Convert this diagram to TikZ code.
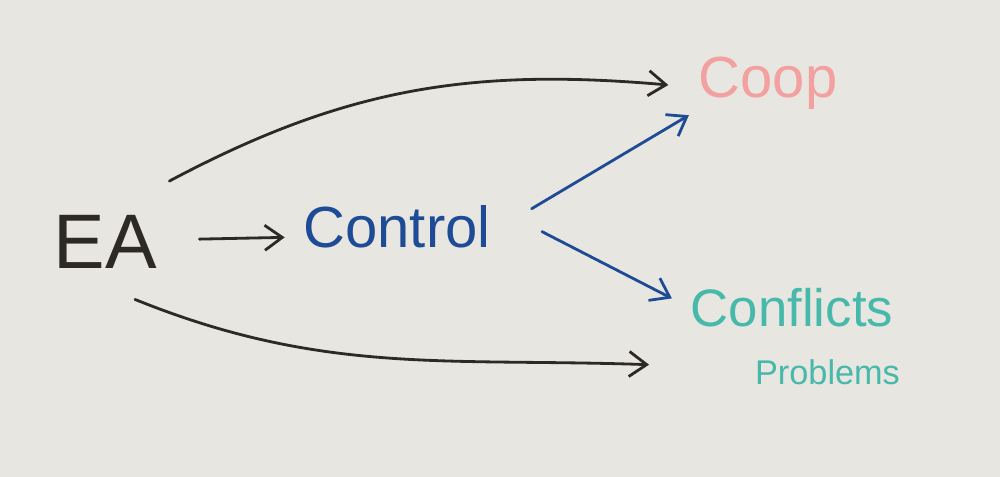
\documentclass[tikz,border=0pt]{standalone}
\usepackage{fontspec}
\setmainfont{Liberation Sans}
\usetikzlibrary{arrows.meta}
\definecolor{board}{RGB}{232,230,225}
\definecolor{marker}{RGB}{45,42,38}
\definecolor{markerblue}{RGB}{30,75,150}
\definecolor{markerpink}{RGB}{243,160,160}
\definecolor{markerteal}{RGB}{70,185,170}
\tikzset{
	word/.style={inner sep=0pt},
	pen/.style={line width=1.6pt, line cap=round, -{Straight Barb[length=3.5mm,width=5mm]}},
}

\begin{document}
\begin{tikzpicture}
			\fill[board] (0,0) rectangle (20,9.54);
			\useasboundingbox (0,0) rectangle (20,9.54);
			\coordinate (ea) at (2.1,4.71);
			\coordinate (control) at (7.94,5.0);
			\coordinate (coop) at (15.36,7.88);
			\coordinate (conflicts) at (15.84,3.38);
			\coordinate (problems) at (16.55,2.1);
			\node[word, font=\fontsize{44}{50}\selectfont, text=marker] (EA) at (ea) {EA};
			\node[word, font=\fontsize{33}{40}\selectfont, text=markerblue] (Control) at (control) {Control};
			\node[word, font=\fontsize{33}{40}\selectfont, text=markerpink] (Coop) at (coop) {Coop};
			\node[word, font=\fontsize{30}{36}\selectfont, text=markerteal] (Conflicts) at (conflicts) {Conflicts};
			\node[word, font=\fontsize{19.5}{24}\selectfont, text=markerteal] (Problems) at (problems) {Problems};
			\draw[pen, marker, shorten <=0.85cm, shorten >=0.37cm] ([yshift=0.03cm]EA.east) to ([yshift=-0.2cm]Control.west);
			\draw[pen, markerblue, shorten <=0.95cm, shorten >=0.22cm] ([yshift=-0.12cm]Control.east) to (Coop.south west);
			\draw[pen, markerblue, shorten <=1.15cm, shorten >=0.42cm] (Control.north east) to (Conflicts.west);
			\draw[pen, marker] ([shift={(0.25,0.67)}]EA.north east) to[out=28, in=175] ([shift={(-0.6,-0.04)}]Coop.west);
			\draw[pen, marker] ([shift={(0.6,-0.62)}]EA.south) to[out=-22, in=178] ([shift={(-0.83,-0.74)}]Conflicts.south west);
		\end{tikzpicture}
\end{document}
